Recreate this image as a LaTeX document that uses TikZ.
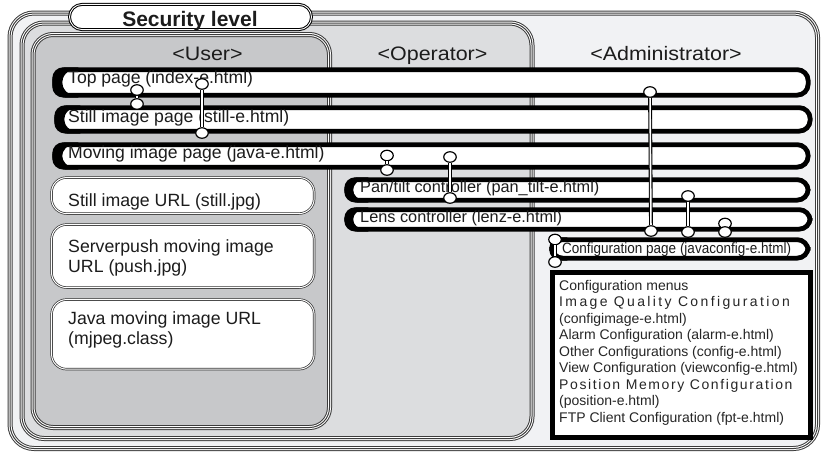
\documentclass[tikz,border=0pt]{standalone}
\usepackage{fontspec}
\setmainfont{Liberation Sans}
\newfontfamily\widefont[FakeStretch=1.1]{Liberation Sans}
\newfontfamily\narrowfont[FakeStretch=0.9]{Liberation Sans}
\usetikzlibrary{shapes.geometric,calc}
\definecolor{admfill}{HTML}{F1F2F4}
\definecolor{opfill}{HTML}{DCDDDF}
\definecolor{usrfill}{HTML}{C7C8CA}
\definecolor{linegray}{HTML}{3C3C3C}
\definecolor{inkc}{HTML}{1C1C1C}
\tikzset{
  tribox/.style={draw=linegray, line width=5pt,
    postaction={draw=white, line width=3pt},
    postaction={draw=linegray, line width=1pt},
    anchor=north west, inner sep=0pt},
  pagebar/.style={draw=black, line width=4.8pt, fill=white, rounded corners=11pt,
    anchor=north west, inner sep=0pt},
  urlbox/.style={draw=black!80, double=white, double distance=1pt, line width=0.7pt,
    fill=white, rounded corners=15pt, anchor=north west, inner sep=0pt},
  menubox/.style={draw=black, line width=5pt, fill=white, anchor=north west, inner sep=0pt},
  secpill/.style={draw=black, double=white, double distance=0.9pt, line width=1pt,
    fill=white, rounded corners=12.6pt, inner sep=0pt},
  joint/.style={ellipse, draw=black, line width=1.2pt, fill=white,
    minimum width=12.5pt, minimum height=10.5pt, inner sep=0pt},
  link/.style={draw=black, line width=1.1pt, double=white, double distance=1.6pt},
  roletext/.style={anchor=base, inner sep=0pt, text=inkc, font=\widefont\fontsize{19.5}{22}\selectfont},
  pagetext/.style={anchor=base west, inner sep=0pt, text=inkc, font=\fontsize{17.6}{20}\selectfont},
  smalltext/.style={anchor=base west, inner sep=0pt, text=inkc, font=\fontsize{16.3}{20}\selectfont},
  urltext/.style={anchor=north west, inner sep=0pt, align=left, text=inkc, font=\fontsize{17.7}{20.5}\selectfont},
}
% thick crescent at the left end of a page bar: #1 bar, #2 tip depth, #3 curve length
\newcommand\leftcap[3]{%
  \begin{scope}
    \clip[rounded corners=11pt] (#1.north west) rectangle (#1.south east);
    \fill[black] ($(#1.north west)+(-3,-3)$) -- ($(#1.north west)+(#3,-3)$)
      -- ($(#1.north west)+(#3,1.5)$)
      .. controls ($(#1.north west)+(#2+4,1.5)$) and ($(#1.west)+(#2,-5)$) .. ($(#1.west)+(#2,0)$)
      .. controls ($(#1.west)+(#2,5)$) and ($(#1.south west)+(#2+4,-1.5)$) .. ($(#1.south west)+(#3,-1.5)$)
      -- ($(#1.south west)+(#3,3)$) -- ($(#1.south west)+(-3,3)$) -- cycle;
  \end{scope}}
\begin{document}
\begin{tikzpicture}[x=1pt,y=-1pt]
\useasboundingbox (0,0) rectangle (823,453);

% security level boxes
\node[tribox, fill=admfill, rounded corners=24pt, minimum width=807.5pt, minimum height=435.5pt] (admin) at (7.5,10.5) {};
\node[tribox, fill=opfill, rounded corners=22pt, minimum width=510pt, minimum height=415.5pt] (oper) at (19.5,20.5) {};
\node[tribox, fill=usrfill, rounded corners=20pt, minimum width=296.5pt, minimum height=393pt] (user) at (30.5,32) {};

\node[secpill, minimum width=242pt, minimum height=25.2pt] (sec) at (190.5,17) {};
\node[anchor=base, inner sep=0pt, text=inkc, font=\bfseries\fontsize{21}{24}\selectfont] (sect) at (190,26.8) {Security level};

\node[roletext] (userl) at (207.5,60) {\textless User\textgreater};
\node[roletext] (operl) at (432.5,60) {\textless Operator\textgreater};
\node[roletext] (adminl) at (666,60) {\textless Administrator\textgreater};

% URL boxes
\node[urlbox, minimum width=262.6pt, minimum height=36pt] (url1) at (51.2,177.2) {};
\node[urlbox, minimum width=262.6pt, minimum height=63pt] (url2) at (51.2,224.2) {};
\node[urlbox, minimum width=262.6pt, minimum height=69.6pt] (url3) at (51.2,299.2) {};
\node[pagetext, font=\fontsize{17.7}{20}\selectfont] (url1t) at (68,206.7) {Still image URL (still.jpg)};
\node[urltext] (url2t) at (68,239.0) {Serverpush moving image\\URL (push.jpg)};
\node[urltext] (url3t) at (68,311.3) {Java moving image URL\\(mjpeg.class)};

% page bars
\node[pagebar, minimum width=753.5pt, minimum height=25.5pt] (top) at (52.25,67.25) {};
\node[pagebar, minimum width=753.5pt, minimum height=23.5pt] (still) at (54.25,105.25) {};
\node[pagebar, minimum width=753.5pt, minimum height=22.5pt] (moving) at (52.25,142.25) {};
\node[pagebar, minimum width=461.5pt, minimum height=20.5pt] (pan) at (344.25,177.25) {};
\node[pagebar, minimum width=463.5pt, minimum height=19.5pt] (lens) at (344.25,207.25) {};
\node[pagebar, minimum width=256.5pt, minimum height=18.5pt] (conf) at (549.25,237.25) {};
\node[menubox, minimum width=258pt, minimum height=165pt] (menus) at (549.5,269.5) {};
\leftcap{top}{10}{26}
\leftcap{still}{10}{26}
\leftcap{moving}{10}{26}
\leftcap{pan}{9}{24}
\leftcap{lens}{9}{24}
\leftcap{conf}{6}{18}

\node[pagetext] (topt) at (68,83.5) {Top page (index-e.html)};
\node[pagetext] (stillt) at (68,122) {Still image page (still-e.html)};
\node[pagetext] (movingt) at (68,158) {Moving image page (java-e.html)};
\node[smalltext] (pant) at (360,192) {Pan/tilt controller (pan\_tilt-e.html)};
\node[smalltext] (lenst) at (360,222) {Lens controller (lenz-e.html)};
\node[anchor=base west, inner sep=0pt, text=inkc, font=\narrowfont\fontsize{15}{18}\selectfont] (conft) at (562,253) {Configuration page (javaconfig-e.html)};

\node[anchor=north west, inner sep=0pt, align=left, text=black!85, font=\fontsize{14}{16.5}\selectfont] (menust) at (559,279.8)
 {Configuration menus\\
  {\addfontfeature{LetterSpace=17}Image Quality Configuration}\\
  (configimage-e.html)\\
  Alarm Configuration (alarm-e.html)\\
  Other Configurations (config-e.html)\\
  View Configuration (viewconfig-e.html)\\
  {\addfontfeature{LetterSpace=11.5}Position Memory Configuration}\\
  (position-e.html)\\
  FTP Client Configuration (fpt-e.html)};

% connectors
\node[joint] (c1t) at (137,90) {};
\node[joint] (c1b) at (137,104) {};
\node[joint] (c2t) at (202,84) {};
\node[joint] (c2b) at (202,133) {};
\node[joint] (c3t) at (650,92) {};
\node[joint] (c3b) at (651,231) {};
\node[joint] (c4t) at (387,155.5) {};
\node[joint] (c4b) at (387,170) {};
\node[joint] (c5t) at (450,157) {};
\node[joint] (c5b) at (450,198) {};
\node[joint] (c6t) at (688,196) {};
\node[joint] (c6b) at (688,232) {};
\node[joint] (c7t) at (725,223.5) {};
\node[joint] (c7b) at (725,232) {};
\node[joint] (c8t) at (555,239.5) {};
\node[joint] (c8b) at (555,262) {};

\draw[link] (c1t) -- (c1b);
\draw[link] (c2t) -- (c2b);
\draw[link] (c3t) -- (c3b);
\draw[link] (c4t) -- (c4b);
\draw[link] (c5t) -- (c5b);
\draw[link] (c6t) -- (c6b);
\draw[link] (c8t) -- (c8b);
\end{tikzpicture}
\end{document}
